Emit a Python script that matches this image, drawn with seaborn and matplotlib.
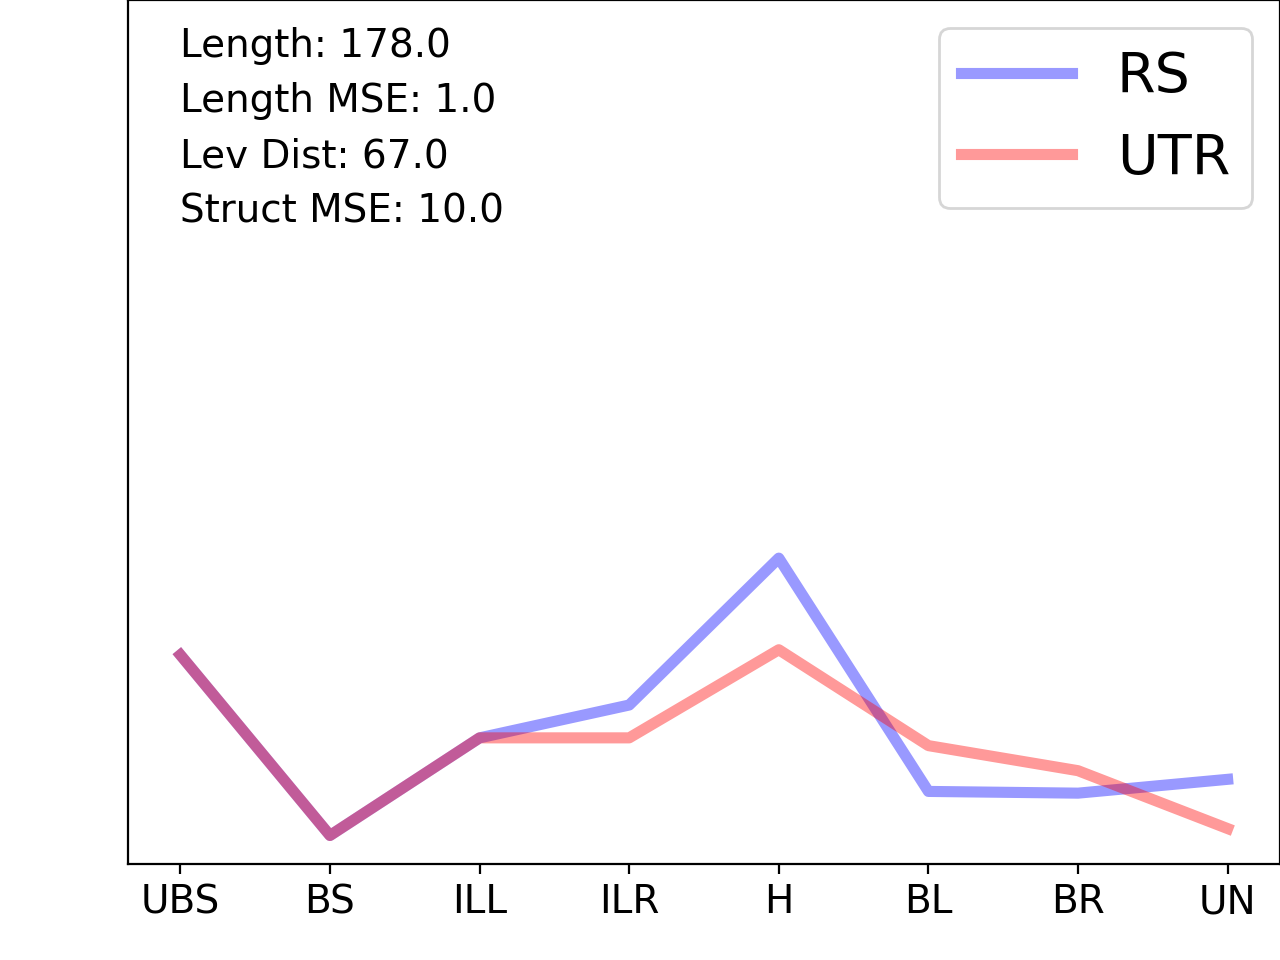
import matplotlib
matplotlib.use("Agg")
import matplotlib.pyplot as plt
import seaborn as sns
import pandas as pd

categories = ["UBS", "BS", "ILL", "ILR", "H", "BL", "BR", "UN"]
rs_values = [0.242, 0.033, 0.146, 0.184, 0.354, 0.084, 0.082, 0.098]
utr_values = [0.242, 0.033, 0.146, 0.146, 0.248, 0.137, 0.108, 0.041]
series_names = ["RS", "UTR"]
series_colors = ["b", "r"]
info_lines = ["Length: 178.0", "Length MSE: 1.0", "Lev Dist: 67.0", "Struct MSE: 10.0"]

fig = plt.figure(figsize=(6.4, 4.8), dpi=200)
ax = fig.add_axes([0.1, 0.1, 0.9, 0.9])

for name, vals, col in zip(series_names, [rs_values, utr_values], series_colors):
    df = pd.DataFrame({"cat": categories, "val": vals})
    sns.lineplot(data=df, x="cat", y="val", ax=ax, color=col, alpha=0.4,
                 linewidth=4, label=name, sort=False)

ax.set_ylim(0, 1)
ax.set_yticks([])
ax.set_xlabel("")
ax.set_ylabel("")
ax.tick_params(axis="x", labelsize=14)

ys = [0.934, 0.870, 0.806, 0.742]
for t, y in zip(info_lines, ys):
    ax.text(0.045, y, t, transform=ax.transAxes, fontsize=14, ha="left", va="baseline")

ax.legend(fontsize=20, loc="upper right")

fig.savefig("out.png", dpi=200)
